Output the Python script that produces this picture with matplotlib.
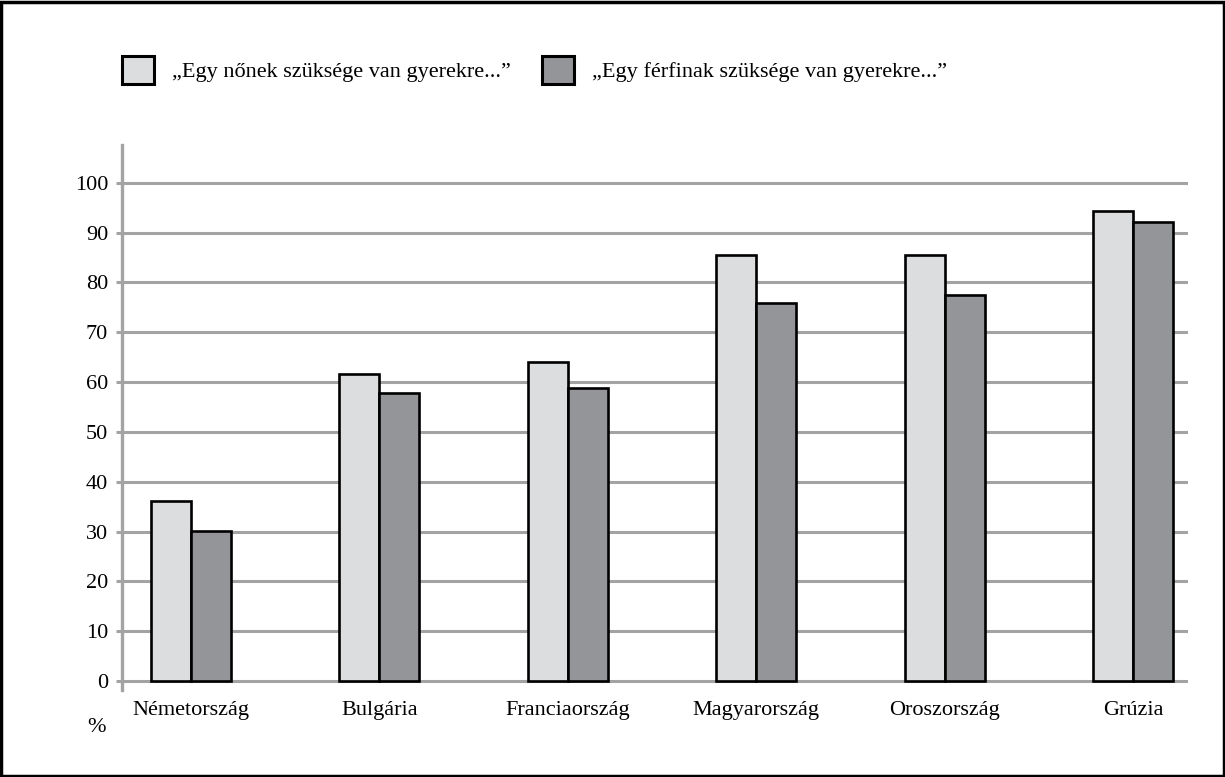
import matplotlib
matplotlib.use("Agg")
import matplotlib.pyplot as plt
import numpy as np
from matplotlib.patches import Rectangle, Patch

plt.rcParams['font.family'] = ['Liberation Serif', 'DejaVu Serif']

orszagok = ['Németország', 'Bulgária', 'Franciaország', 'Magyarország', 'Oroszország', 'Grúzia']
nok = [36.1, 61.6, 64.1, 85.5, 85.5, 94.4]
ferfiak = [30.1, 57.8, 58.8, 75.8, 77.4, 92.2]
cimkek = ['„Egy nőnek szüksége van gyerekre...”', '„Egy férfinak szüksége van gyerekre...”']

vilagos = '#dcdddf'
sotet = '#939598'
racs = '#a3a3a3'

fig = plt.figure(figsize=(12.25, 7.77), dpi=100)
ax = fig.add_axes([122 / 1225, 1 - 690 / 777, (1188 - 122) / 1225, (690 - 145) / 777])

x = np.arange(len(orszagok))
w = 0.212
ax.bar(x - w / 2, nok, w, color=vilagos, edgecolor='black', linewidth=1.9, zorder=3)
ax.bar(x + w / 2, ferfiak, w, color=sotet, edgecolor='black', linewidth=1.9, zorder=3)

ax.set_xlim(-0.366, 5.292)
ax.set_ylim(-1.8, 107.6)
ax.set_yticks(range(0, 101, 10))
for v in range(0, 101, 10):
    ax.axhline(v, color=racs, lw=2.2, zorder=1)

for s in ['top', 'right', 'bottom']:
    ax.spines[s].set_visible(False)
ax.spines['left'].set_color(racs)
ax.spines['left'].set_linewidth(2.4)
ax.tick_params(axis='y', length=4, width=2.2, color=racs, labelsize=16, pad=6)
ax.tick_params(axis='x', length=0, labelsize=16, pad=18)
ax.set_xticks(x)
ax.set_xticklabels(orszagok)
for t in ax.get_xticklabels():
    t.set_verticalalignment('baseline')
ax.text(96 / 1225, 1 - 728 / 777, '%', transform=fig.transFigure, fontsize=16,
        ha='center', va='center')

handles = [Patch(facecolor=vilagos, edgecolor='black', linewidth=2.2),
           Patch(facecolor=sotet, edgecolor='black', linewidth=2.2)]
fig.legend(handles, cimkek, loc='center left', bbox_to_anchor=(113 / 1225, 1 - 70 / 777),
           ncol=2, frameon=False, fontsize=16, handlelength=1.45, handleheight=1.5,
           handletextpad=0.8, columnspacing=1.4, borderaxespad=0)

fig.patches.append(Rectangle((0.001, 0.001), 0.998, 0.997, transform=fig.transFigure,
                             fill=False, edgecolor='black', linewidth=2.5))

fig.savefig('out.png', dpi=100)
